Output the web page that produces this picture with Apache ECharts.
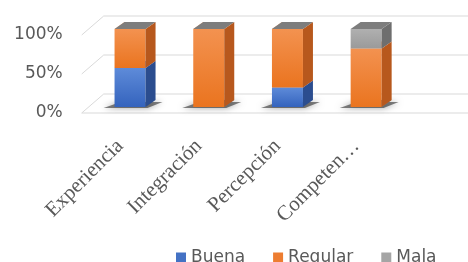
<!DOCTYPE html>
<html>
<head>
<meta charset="utf-8">
<script src="https://cdn.jsdelivr.net/npm/echarts@6/dist/echarts.min.js"></script>
<style>
html, body { margin: 0; padding: 0; background: #fff; }
#main { width: 468px; height: 262px; }
</style>
</head>
<body>
<div id="main"></div>
<script>
// datos (porcentajes)
var categories = ['Experiencia', 'Integración', 'Percepción', 'Competencia'];
var buena = [50, 0, 25, 0];
var regular = [50, 100, 75, 75];
var mala = [0, 0, 0, 25];
var yTicks = [0, 50, 100];

var DX = 10, DY = -7;        // profundidad de la barra
var WX = 22, WY = -19;       // desplazamiento de la pared del fondo
var BAR_OFF = -6;            // la cara frontal va un poco mas arriba que el piso
var HALF = 15.5;

var colors = {
  Buena:   { front: ['#5e8bd9', '#3463bd'], side: '#2b4d8f', top: '#6f93d6' },
  Regular: { front: ['#f39250', '#ea741f'], side: '#b7581d', top: '#f5a36c' },
  Mala:    { front: ['#b0b0b0', '#9a9a9a'], side: '#6e6e6e', top: '#7d7d7d' }
};

function stackData(vals, below) {
  return vals.map(function (v, i) {
    var base = 0;
    below.forEach(function (b) { base += b[i]; });
    return [i, base, base + v];
  });
}

function barRender(name) {
  var c = colors[name];
  return function (params, api) {
    var cat = api.value(0), lo = api.value(1), hi = api.value(2);
    var pLo = api.coord([cat, lo]), pHi = api.coord([cat, hi]);
    var x0 = pLo[0] - HALF, x1 = pLo[0] + HALF;
    var yb = pLo[1] + BAR_OFF, yt = pHi[1] + BAR_OFF;
    var children = [];
    if (name === 'Buena') {
      // sombra en la base
      children.push({
        type: 'polygon',
        shape: { points: [[x0 - 11, yb + 1], [x1 + 2, yb + 1], [x1 + DX + 7, yb + DY + 2], [x0 + DX - 4, yb + DY + 2]] },
        style: { fill: 'rgba(30,30,30,0.55)', shadowBlur: 6, shadowColor: 'rgba(0,0,0,0.7)' }
      });
    }
    if (hi > lo) {
      children.push({
        type: 'rect',
        shape: { x: x0, y: yt, width: x1 - x0, height: yb - yt },
        style: { fill: new echarts.graphic.LinearGradient(0, 0, 0, 1, [
          { offset: 0, color: c.front[0] }, { offset: 1, color: c.front[1] }]) }
      });
      children.push({
        type: 'polygon',
        shape: { points: [[x1, yb], [x1 + DX, yb + DY], [x1 + DX, yt + DY], [x1, yt]] },
        style: { fill: c.side }
      });
    }
    children.push({
      type: 'polygon',
      shape: { points: [[x0, yt], [x1, yt], [x1 + DX, yt + DY], [x0 + DX, yt + DY]] },
      style: { fill: name === 'Mala' || hi === lo ? colors.Mala.top : c.top }
    });
    return { type: 'group', children: children };
  };
}

function wallRender(params, api) {
  var p = api.coord([0, api.value(1)]);
  var cs = params.coordSys;
  var xl = cs.x - 9, w = api.getWidth();
  var st = { stroke: '#d9d9d9', lineWidth: 1 };
  var children = [
    { type: 'line', shape: { x1: xl, y1: p[1], x2: xl + WX, y2: p[1] + WY }, style: st },
    { type: 'line', shape: { x1: xl + WX, y1: p[1] + WY, x2: w, y2: p[1] + WY }, style: st }
  ];
  if (api.value(1) === 0) {
    children.push({ type: 'line', shape: { x1: xl, y1: p[1], x2: w, y2: p[1] }, style: st });
  }
  return { type: 'group', children: children };
}

var myChart = echarts.init(document.getElementById('main'));
myChart.setOption({
  animation: false,
  grid: { left: 90.7, right: 62.5, top: 35, bottom: 149 },
  legend: {
    data: ['Buena', 'Regular', 'Mala'],
    left: 171, top: 244,
    icon: 'rect', itemWidth: 10, itemHeight: 10, itemGap: 28,
    textStyle: { fontFamily: 'DejaVu Sans', fontSize: 17, color: '#595959' }
  },
  xAxis: {
    type: 'category',
    data: categories,
    axisLine: { show: false },
    axisTick: { show: false },
    axisLabel: {
      interval: 0, rotate: 45, margin: 20, padding: [0, 14, 0, 0],
      fontFamily: 'Liberation Serif', fontSize: 21, color: '#595959',
      width: 109, overflow: 'truncate', ellipsis: '…'
    }
  },
  yAxis: {
    type: 'value', min: 0, max: 100, interval: 50,
    axisLine: { show: false },
    axisTick: { show: false },
    splitLine: { show: false },
    axisLabel: { formatter: '{value}%', margin: 28, fontFamily: 'DejaVu Sans', fontSize: 17, color: '#595959' }
  },
  series: [
    { name: 'pared', type: 'custom', renderItem: wallRender, data: yTicks.map(function (v) { return [0, v]; }), z: 1, silent: true },
    { name: 'Buena', type: 'custom', renderItem: barRender('Buena'), data: stackData(buena, []), itemStyle: { color: '#4472c4' }, encode: { x: 0, y: [1, 2] }, z: 2 },
    { name: 'Regular', type: 'custom', renderItem: barRender('Regular'), data: stackData(regular, [buena]), itemStyle: { color: '#ed7d31' }, encode: { x: 0, y: [1, 2] }, z: 2 },
    { name: 'Mala', type: 'custom', renderItem: barRender('Mala'), data: stackData(mala, [buena, regular]), itemStyle: { color: '#a5a5a5' }, encode: { x: 0, y: [1, 2] }, z: 2 }
  ]
});
</script>
</body>
</html>
